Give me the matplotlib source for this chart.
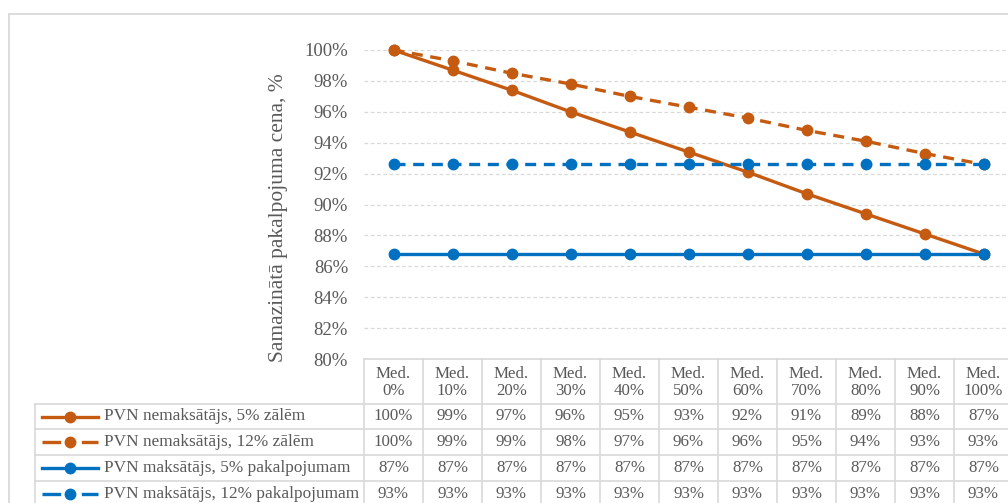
import matplotlib.pyplot as plt
from matplotlib.lines import Line2D
from matplotlib.patches import Rectangle
from matplotlib.ticker import FuncFormatter

plt.rcParams['font.family'] = ['Liberation Serif', 'DejaVu Serif']

# dati
categories = ["Med.\n0%", "Med.\n10%", "Med.\n20%", "Med.\n30%", "Med.\n40%", "Med.\n50%",
              "Med.\n60%", "Med.\n70%", "Med.\n80%", "Med.\n90%", "Med.\n100%"]
series_names = ["PVN nemaksātājs, 5% zālēm", "PVN nemaksātājs, 12% zālēm",
                "PVN maksātājs, 5% pakalpojumam", "PVN maksātājs, 12% pakalpojumam"]
nemaks_5 = [100.0, 98.7, 97.4, 96.0, 94.7, 93.4, 92.1, 90.7, 89.4, 88.1, 86.8]
nemaks_12 = [100.0, 99.3, 98.5, 97.8, 97.0, 96.3, 95.6, 94.8, 94.1, 93.3, 92.6]
maks_5 = [86.8] * 11
maks_12 = [92.6] * 11
table_5n = ["100%", "99%", "97%", "96%", "95%", "93%", "92%", "91%", "89%", "88%", "87%"]
table_12n = ["100%", "99%", "99%", "98%", "97%", "96%", "96%", "95%", "94%", "93%", "93%"]
table_5m = ["87%"] * 11
table_12m = ["93%"] * 11

orange = "#C55A11"
blue = "#0070C0"
grey_txt = "#595959"
grid_c = "#D9D9D9"

W, H = 1008, 503
fig = plt.figure(figsize=(W / 100, H / 100), dpi=100)

# pikseļu koordinātes -> figūras daļas
def fx(px):
    return px / W

def fy(py):
    return 1 - py / H

ax_left, ax_right, ax_top, ax_bot = 364, 1013, 50, 359
ax = fig.add_axes([fx(ax_left), fy(ax_bot), fx(ax_right - ax_left), (ax_bot - ax_top) / H])

x = list(range(len(categories)))
dash = (0, (3.3, 2.3))
styles = [(nemaks_5, orange, "-"), (nemaks_12, orange, dash),
          (maks_5, blue, "-"), (maks_12, blue, dash)]
for vals, col, ls in styles:
    ax.plot(x, vals, color=col, ls=ls, lw=2.4, marker="o", ms=7.5, clip_on=False, zorder=3)

ax.set_xlim(-0.5, len(categories) - 0.5)
ax.set_ylim(80, 100)
ax.set_yticks(range(80, 101, 2))
ax.yaxis.set_major_formatter(FuncFormatter(lambda v, p: f"{v:.0f}%"))
ax.tick_params(axis="y", length=0, labelsize=13.5, labelcolor=grey_txt, pad=11.5)
ax.set_xticks([])
ax.grid(axis="y", color=grid_c, ls=(0, (3, 2)), lw=0.9)
for s in ax.spines.values():
    s.set_visible(False)

fig.text(fx(278), fy(218), "Samazinātā pakalpojuma cena, %", rotation=90,
         ha="center", va="center", fontsize=15.5, color=grey_txt)

# tabula zem grafika
cat_w = (ax_right - ax_left) / len(categories)
rows = [359, 404, 429, 455, 481, 507]
line_kw = dict(color=grid_c, lw=1.2, transform=fig.transFigure, clip_on=False)

# horizontālās līnijas
fig.add_artist(Line2D([fx(ax_left), fx(ax_right)], [fy(rows[0])] * 2, **line_kw))
for r in rows[1:]:
    fig.add_artist(Line2D([fx(35), fx(ax_right)], [fy(r)] * 2, **line_kw))
# vertikālās līnijas
for i in range(len(categories) + 1):
    xp = ax_left + i * cat_w
    fig.add_artist(Line2D([fx(xp)] * 2, [fy(rows[0]), fy(rows[-1])], **line_kw))
fig.add_artist(Line2D([fx(35)] * 2, [fy(rows[1]), fy(rows[-1])], **line_kw))

for i, c in enumerate(categories):
    cx = ax_left + (i + 0.5) * cat_w
    fig.text(fx(cx), fy((rows[0] + rows[1]) / 2 + 1), c, ha="center", va="center",
             fontsize=12.2, color=grey_txt, linespacing=1.1)

table_rows = [table_5n, table_12n, table_5m, table_12m]
for j, (vals, (_, col, ls)) in enumerate(zip(table_rows, styles)):
    cy = (rows[j + 1] + rows[j + 2]) / 2
    for i, v in enumerate(vals):
        cx = ax_left + (i + 0.5) * cat_w
        fig.text(fx(cx), fy(cy), v, ha="center", va="center", fontsize=12.2, color=grey_txt)
    # leģendas paraugs
    leg_ls = (0, (5.6, 6.2)) if ls != "-" else "-"
    fig.add_artist(Line2D([fx(42), fx(98)], [fy(cy)] * 2, color=col, ls=leg_ls, lw=2.4,
                          transform=fig.transFigure))
    fig.add_artist(Line2D([fx(70)], [fy(cy)], color=col, marker="o", ms=7.5, ls="none",
                          transform=fig.transFigure))
    fig.text(fx(104), fy(cy), series_names[j], ha="left", va="center",
             fontsize=12.4, color=grey_txt)

# rāmis
fig.add_artist(Rectangle((fx(8.5), fy(560)), fx(1100), (560 - 14) / H, fill=False,
                         edgecolor=grid_c, lw=1.3, transform=fig.transFigure))

fig.savefig("out.png", dpi=100)
